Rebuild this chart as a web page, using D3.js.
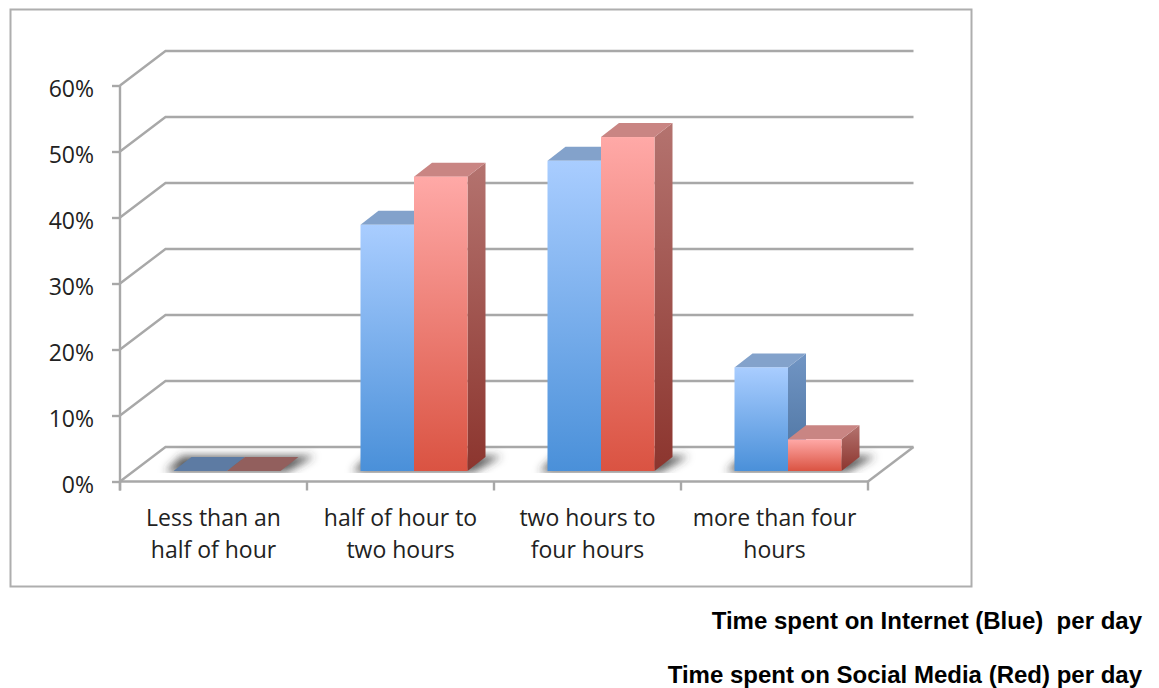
<!DOCTYPE html>
<html>
<head>
<meta charset="utf-8">
<script src="https://cdnjs.cloudflare.com/ajax/libs/d3/7.9.0/d3.min.js"></script>
<style>
  html, body { margin: 0; padding: 0; background: #fff; }
  svg { display: block; }
  text { font-family: "Open Sans", sans-serif; fill: #222; }
  .note { font-family: "Liberation Sans", Arial, sans-serif; font-weight: 700; font-size: 24px; fill: #000; }
</style>
</head>
<body>
<svg id="chart" width="1159" height="688"></svg>
<script>
// Daily time use, share of respondents per bracket
const categories = [
  ["Less than an", "half of hour"],
  ["half of hour to", "two hours"],
  ["two hours to", "four hours"],
  ["more than four", "hours"]
];
const internetValues = [0, 37.3, 47, 15.7];
const socialValues = [0, 44.6, 50.6, 4.8];
const yTicks = [0, 10, 20, 30, 40, 50, 60];
const notes = [
  "Time spent on Internet (Blue)  per day",
  "Time spent on Social Media (Red) per day"
];

const svg = d3.select("#chart");
const GRID = "#a8a8a8";

// Oblique projection of the 3D box: wall depth and bar depth
const wall = { dx: 45.5, dy: -34.5 };
const barDepth = { dx: 18, dy: -14 };
const inset = { dx: 13.5, dy: -10.5 };

const x = d3.scaleBand().domain(d3.range(categories.length)).range([120, 868]);
const y = d3.scaleLinear().domain([0, 60]).range([481.5, 85.5]);
const barW = 53.5;

// Gradients for the front and side faces
const defs = svg.append("defs");
function gradient(id, top, bottom) {
  const g = defs.append("linearGradient").attr("id", id)
    .attr("x1", 0).attr("y1", 0).attr("x2", 0).attr("y2", 1);
  g.append("stop").attr("offset", "0%").attr("stop-color", top);
  g.append("stop").attr("offset", "100%").attr("stop-color", bottom);
}
gradient("blueFront", "#a9cdff", "#4a90d9");
gradient("redFront", "#ffa9a7", "#da5342");
gradient("blueSide", "#7195c4", "#4b729f");
gradient("redSide", "#b4736f", "#8c352e");
defs.append("filter").attr("id", "floorShadow")
  .attr("x", "-30%").attr("y", "-100%").attr("width", "160%").attr("height", "300%")
  .append("feGaussianBlur").attr("stdDeviation", 4);

// Outer frame
svg.append("rect").attr("x", 10.5).attr("y", 9.5).attr("width", 961).attr("height", 577)
  .attr("fill", "#fff").attr("stroke", "#aeaeae").attr("stroke-width", 2);

// Back wall gridlines with their oblique links to the value axis
const grid = svg.append("g").attr("fill", "none").attr("stroke", GRID).attr("stroke-width", 2.4);
grid.selectAll("path").data(yTicks).join("path")
  .attr("d", t => d3.line()([
    [x.range()[0], y(t)],
    [x.range()[0] + wall.dx, y(t) + wall.dy],
    [x.range()[1] + wall.dx, y(t) + wall.dy]
  ]));
// Right edge of the floor
grid.append("path").attr("d", d3.line()([
  [x.range()[1], y(0)],
  [x.range()[1] + wall.dx, y(0) + wall.dy]
]));

// Value axis
const yAxis = svg.append("g").attr("transform", `translate(${x.range()[0]},0)`)
  .call(d3.axisLeft(y).tickValues(yTicks).tickFormat(d => d + "%").tickSize(8).tickPadding(18));
yAxis.select(".domain").attr("d", `M0,${y(60)}V${y(0) + 9}`).attr("stroke", GRID).attr("stroke-width", 2.4);
yAxis.selectAll(".tick line").attr("stroke", GRID).attr("stroke-width", 2.4);
yAxis.selectAll("text").attr("font-size", 23).attr("font-family", null).attr("dy", "0.46em");

// Category axis: ticks on the band edges, labels in the band centres
const xAxis = svg.append("g").attr("transform", `translate(0,${y(0)})`)
  .call(d3.axisBottom(x).tickSize(0).tickFormat(""));
xAxis.select(".domain").attr("d", `M${x.range()[0]},0H${x.range()[1]}`).attr("stroke", GRID).attr("stroke-width", 2.4);
const edges = d3.range(categories.length + 1).map(i => x.range()[0] + i * x.step());
xAxis.selectAll("line.edge").data(edges).join("line").attr("class", "edge")
  .attr("x1", d => d).attr("x2", d => d).attr("y1", 0).attr("y2", 9)
  .attr("stroke", GRID).attr("stroke-width", 2.4);
xAxis.selectAll(".tick").each(function (d) {
  const label = d3.select(this).select("text").attr("font-size", 23).attr("font-family", null)
    .attr("y", 0).attr("dy", null).attr("text-anchor", "middle");
  label.selectAll("tspan").data(categories[d]).join("tspan")
    .attr("x", 0).attr("y", (_, i) => 44.5 + i * 32).text(t => t);
});

// Bars: baseline sits forward of the back wall, inside the floor
const base = y(0) - 10.5;
const unit = y(0) - y(1);
const groupX = i => x(i) + x.bandwidth() / 2 + inset.dx - barW;

const poly = pts => d3.line()(pts) + "Z";

// Soft contact shadows on the floor, cut off along the front edge of the bars
defs.append("clipPath").attr("id", "floorClip").append("rect")
  .attr("x", x.range()[0]).attr("y", base - 40).attr("width", x.range()[1] - x.range()[0] + 40).attr("height", 42);
const shadows = svg.append("g").attr("clip-path", "url(#floorClip)")
  .append("g").attr("filter", "url(#floorShadow)");
categories.forEach((_, i) => {
  const l = groupX(i), r = l + 2 * barW;
  shadows.append("path")
    .attr("d", poly([[l - 8, base + 1], [r + 6, base + 1], [r + barDepth.dx + 16, base + barDepth.dy - 1], [l + 8, base + barDepth.dy - 1]]))
    .attr("fill", "#333").attr("opacity", 0.8);
});

function drawBar(g, left, value, front, side, topFace, flatFace) {
  const h = value * unit;
  const t = base - h;
  const { dx, dy } = barDepth;
  const r = left + barW;
  if (h > 0) {
    g.append("path").attr("d", poly([[r, t], [r + dx, t + dy], [r + dx, base + dy], [r, base]])).attr("fill", `url(#${side})`);
  }
  g.append("path").attr("d", poly([[left, t], [r, t], [r + dx, t + dy], [left + dx, t + dy]]))
    .attr("fill", h > 0 ? topFace : flatFace);
  if (h > 0) {
    g.append("rect").attr("x", left).attr("y", t).attr("width", barW).attr("height", h).attr("fill", `url(#${front})`);
  }
}

const bars = svg.append("g");
categories.forEach((_, i) => {
  const g = bars.append("g");
  drawBar(g, groupX(i), internetValues[i], "blueFront", "blueSide", "#83a2cb", "#5d7ba3");
  drawBar(g, groupX(i) + barW, socialValues[i], "redFront", "redSide", "#c98583", "#925f5d");
});

// Captions beneath the frame
svg.selectAll("text.note").data(notes).join("text").attr("class", "note")
  .attr("x", 1142).attr("y", (_, i) => 629 + i * 54)
  .attr("text-anchor", "end").style("white-space", "pre").text(d => d);
</script>
</body>
</html>
